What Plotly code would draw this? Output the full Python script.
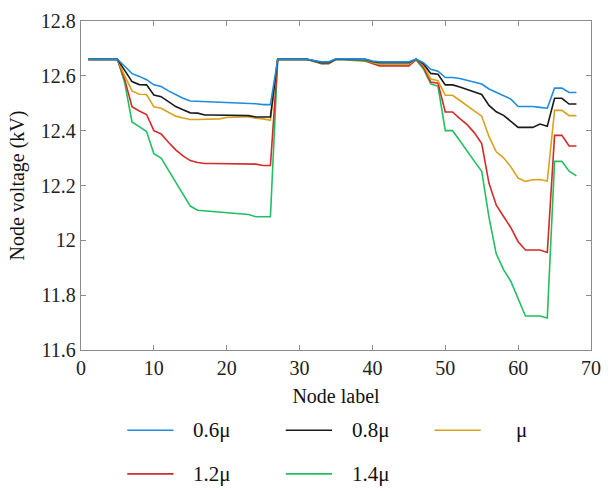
import plotly.graph_objects as go

# Node labels along the feeder
nodes = list(range(1, 69))

# Node voltages (kV) for each load level
v_06 = [12.66, 12.66, 12.66, 12.66, 12.66, 12.635, 12.608, 12.598, 12.586, 12.567,
        12.561, 12.545, 12.531, 12.518, 12.508, 12.507, 12.506, 12.505, 12.504, 12.503,
        12.503, 12.502, 12.501, 12.498, 12.495, 12.495,
        12.66, 12.66, 12.66, 12.66, 12.66, 12.656, 12.651, 12.651, 12.662, 12.662,
        12.662, 12.661, 12.661, 12.654, 12.651, 12.651, 12.651, 12.651, 12.651, 12.661,
        12.648, 12.624, 12.617, 12.594, 12.594, 12.590, 12.584, 12.577, 12.570, 12.552,
        12.540, 12.528, 12.515, 12.488, 12.488, 12.488, 12.485, 12.482, 12.555, 12.555,
        12.539, 12.539]
v_08 = [12.66, 12.66, 12.66, 12.66, 12.66, 12.620, 12.579, 12.568, 12.567, 12.530,
        12.524, 12.506, 12.488, 12.476, 12.465, 12.464, 12.457, 12.457, 12.457, 12.457,
        12.457, 12.457, 12.455, 12.450, 12.450, 12.450,
        12.66, 12.66, 12.66, 12.66, 12.66, 12.655, 12.648, 12.648, 12.661, 12.661,
        12.661, 12.660, 12.660, 12.652, 12.648, 12.648, 12.648, 12.648, 12.648, 12.661,
        12.644, 12.609, 12.606, 12.567, 12.567, 12.559, 12.550, 12.541, 12.532, 12.492,
        12.469, 12.456, 12.435, 12.412, 12.412, 12.412, 12.424, 12.416, 12.518, 12.518,
        12.497, 12.497]
v_10 = [12.66, 12.66, 12.66, 12.66, 12.66, 12.600, 12.545, 12.533, 12.532, 12.487,
        12.482, 12.467, 12.453, 12.446, 12.441, 12.441, 12.441, 12.441, 12.443, 12.448,
        12.450, 12.450, 12.450, 12.445, 12.443, 12.438,
        12.66, 12.66, 12.66, 12.66, 12.66, 12.654, 12.647, 12.647, 12.661, 12.661,
        12.660, 12.659, 12.659, 12.649, 12.642, 12.642, 12.642, 12.642, 12.642, 12.660,
        12.640, 12.588, 12.582, 12.529, 12.529, 12.510, 12.491, 12.472, 12.453, 12.378,
        12.323, 12.301, 12.268, 12.227, 12.215, 12.221, 12.222, 12.216, 12.474, 12.474,
        12.455, 12.455]
v_12 = [12.66, 12.66, 12.66, 12.66, 12.66, 12.587, 12.487, 12.472, 12.459, 12.400,
        12.388, 12.358, 12.330, 12.308, 12.291, 12.284, 12.280, 12.280, 12.280, 12.280,
        12.280, 12.280, 12.280, 12.278, 12.273, 12.273,
        12.66, 12.66, 12.66, 12.66, 12.66, 12.653, 12.645, 12.645, 12.660, 12.660,
        12.659, 12.658, 12.657, 12.645, 12.636, 12.636, 12.636, 12.636, 12.636, 12.659,
        12.632, 12.577, 12.573, 12.468, 12.468, 12.444, 12.422, 12.392, 12.353, 12.208,
        12.128, 12.087, 12.046, 11.995, 11.965, 11.965, 11.965, 11.956, 12.383, 12.383,
        12.344, 12.344]
v_14 = [12.66, 12.66, 12.66, 12.66, 12.66, 12.575, 12.432, 12.415, 12.397, 12.316,
        12.300, 12.256, 12.212, 12.168, 12.125, 12.110, 12.108, 12.106, 12.104, 12.100,
        12.098, 12.096, 12.094, 12.086, 12.086, 12.086,
        12.66, 12.66, 12.66, 12.66, 12.66, 12.652, 12.644, 12.644, 12.660, 12.659,
        12.657, 12.655, 12.653, 12.646, 12.640, 12.640, 12.640, 12.640, 12.640, 12.658,
        12.625, 12.571, 12.562, 12.400, 12.400, 12.363, 12.324, 12.288, 12.252, 12.084,
        11.950, 11.893, 11.850, 11.784, 11.724, 11.724, 11.724, 11.717, 12.288, 12.288,
        12.252, 12.235]

series_names = ["0.6\u03bc", "0.8\u03bc", "\u03bc", "1.2\u03bc", "1.4\u03bc"]
series_values = [v_06, v_08, v_10, v_12, v_14]
series_colors = ["#1f8ce0", "#1a1a1a", "#d9a21b", "#d42a2a", "#21bf62"]

y_ticks = [11.6, 11.8, 12.0, 12.2, 12.4, 12.6, 12.8]
y_ticktext = ["11.6", "11.8", "12", "12.2", "12.4", "12.6", "12.8"]
x_ticks = [0, 10, 20, 30, 40, 50, 60, 70]

FONT = "Times New Roman, DejaVu Serif"

fig = go.Figure()

# draw heaviest load first so the lighter-load curves sit on top
for name, vals, col in reversed(list(zip(series_names, series_values, series_colors))):
    fig.add_trace(go.Scatter(x=nodes, y=vals, mode="lines", name=name,
                             line=dict(color=col, width=1.6), showlegend=False))

# legend drawn below the axes: two rows, three columns
plot_l, plot_r, plot_t, plot_b = 81, 599, 10, 350
pw, ph = plot_r - plot_l, plot_b - plot_t

def px_x(p):
    return (p - plot_l) / pw

def px_y(p):
    return (plot_b - p) / ph

legend_cols = [128, 289, 440]
legend_rows = [433, 478]
for i, (name, col) in enumerate(zip(series_names, series_colors)):
    cx = legend_cols[i % 3]
    cy = legend_rows[i // 3]
    fig.add_shape(type="line", xref="paper", yref="paper",
                  x0=px_x(cx), x1=px_x(cx + 47), y0=px_y(cy), y1=px_y(cy),
                  line=dict(color=col, width=1.6))
    tx = cx + 65 if name != "\u03bc" else cx + 81
    fig.add_annotation(xref="paper", yref="paper", x=px_x(tx), y=px_y(cy),
                       text=name, showarrow=False, xanchor="left", yanchor="middle",
                       font=dict(family=FONT, size=21, color="#111111"))

axis_common = dict(showline=True, linecolor="#8c8c8c", linewidth=1.3, mirror="ticks",
                   ticks="inside", ticklen=5, tickcolor="#8c8c8c", tickwidth=1,
                   showgrid=False, zeroline=False,
                   tickfont=dict(family=FONT, size=20, color="#222222"))

fig.update_xaxes(range=[0, 70], tickvals=x_ticks,
                 title=dict(text="Node label", font=dict(family=FONT, size=20, color="#111111"),
                            standoff=10),
                 **axis_common)
fig.update_yaxes(range=[11.6, 12.8], tickvals=y_ticks, ticktext=y_ticktext,
                 title=dict(text="Node voltage (kV)", font=dict(family=FONT, size=20, color="#111111"),
                            standoff=10),
                 **axis_common)

fig.update_layout(width=611, height=491, plot_bgcolor="white", paper_bgcolor="white",
                  font=dict(family=FONT),
                  margin=dict(l=plot_l, r=611 - plot_r, t=plot_t, b=491 - plot_b),
                  showlegend=False)

fig.write_html("out.html")
